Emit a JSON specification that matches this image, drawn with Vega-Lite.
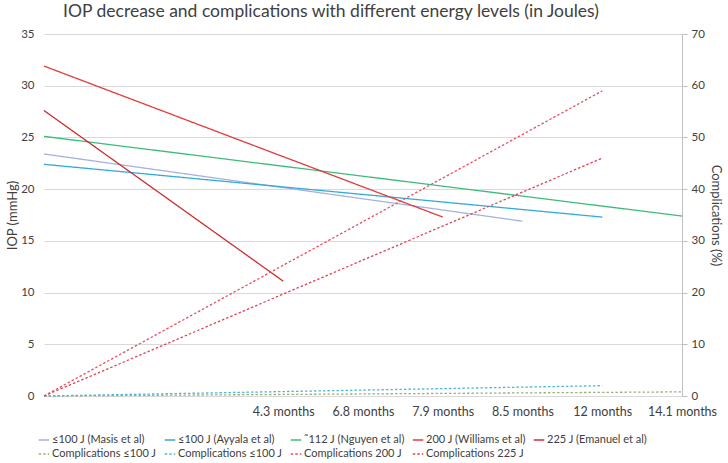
{
  "$schema": "https://vega.github.io/schema/vega-lite/v6.json",
  "width": 638,
  "height": 362,
  "autosize": {"type": "none"},
  "padding": {"left": 44, "top": 34, "right": 46, "bottom": 67},
  "background": "white",
  "title": {
    "text": "IOP decrease and complications with different energy levels (in Joules)",
    "font": "Lato",
    "fontSize": 17.5,
    "fontWeight": "normal",
    "color": "#404040",
    "anchor": "middle",
    "dx": -32,
    "offset": 8
  },
  "config": {
    "view": {"stroke": null},
    "font": "Lato",
    "legend": {
      "orient": "none",
      "legendX": -6,
      "legendY": 400,
      "direction": "horizontal",
      "columns": 5,
      "symbolType": "stroke",
      "symbolSize": 110,
      "symbolStrokeWidth": 1.3,
      "labelFont": "Lato",
      "labelFontSize": 11,
      "labelColor": "#404040",
      "labelOffset": 2,
      "columnPadding": 5,
      "rowPadding": 3,
      "title": null
    }
  },
  "data": {
    "values": [
      {"measure": "IOP", "series": "≤100 J (Masis et al)", "time": "Baseline", "value": 23.4},
      {"measure": "IOP", "series": "≤100 J (Masis et al)", "time": "8.5 months", "value": 16.9},
      {"measure": "IOP", "series": "≤100 J (Ayyala et al)", "time": "Baseline", "value": 22.4},
      {"measure": "IOP", "series": "≤100 J (Ayyala et al)", "time": "12 months", "value": 17.3},
      {"measure": "IOP", "series": "˜112 J (Nguyen et al)", "time": "Baseline", "value": 25.1},
      {"measure": "IOP", "series": "˜112 J (Nguyen et al)", "time": "14.1 months", "value": 17.4},
      {"measure": "IOP", "series": "200 J (Williams et al)", "time": "Baseline", "value": 31.9},
      {"measure": "IOP", "series": "200 J (Williams et al)", "time": "7.9 months", "value": 17.3},
      {"measure": "IOP", "series": "225 J (Emanuel et al)", "time": "Baseline", "value": 27.6},
      {"measure": "IOP", "series": "225 J (Emanuel et al)", "time": "4.3 months", "value": 11.1},
      {"measure": "Complications", "series": "Complications ≤100 J", "time": "Baseline", "value": 0},
      {"measure": "Complications", "series": "Complications ≤100 J", "time": "14.1 months", "value": 0.8},
      {"measure": "Complications", "series": "Complications ≤100 J ", "time": "Baseline", "value": 0},
      {"measure": "Complications", "series": "Complications ≤100 J ", "time": "12 months", "value": 2.0},
      {"measure": "Complications", "series": "Complications 200 J", "time": "Baseline", "value": 0},
      {"measure": "Complications", "series": "Complications 200 J", "time": "12 months", "value": 59.0},
      {"measure": "Complications", "series": "Complications 225 J", "time": "Baseline", "value": 0},
      {"measure": "Complications", "series": "Complications 225 J", "time": "12 months", "value": 46.0}
    ]
  },
  "encoding": {
    "x": {
      "field": "time",
      "type": "ordinal",
      "sort": null,
      "scale": {
        "type": "point",
        "padding": 0,
        "domain": ["Baseline", "pre1", "pre2", "4.3 months", "6.8 months", "7.9 months", "8.5 months", "12 months", "14.1 months"]
      },
      "axis": {
        "title": null,
        "labelAngle": 0,
        "labelExpr": "indexof(datum.value, 'months') >= 0 ? datum.value : ''",
        "labelFont": "Lato",
        "labelFontSize": 12.5,
        "labelColor": "#404040",
        "labelPadding": 9,
        "ticks": false,
        "grid": false,
        "domainColor": "#D9D9D9",
        "domainWidth": 1
      }
    },
    "color": {
      "field": "series",
      "type": "nominal",
      "scale": {
        "domain": ["≤100 J (Masis et al)", "≤100 J (Ayyala et al)", "˜112 J (Nguyen et al)", "200 J (Williams et al)", "225 J (Emanuel et al)", "Complications ≤100 J", "Complications ≤100 J ", "Complications 200 J", "Complications 225 J"],
        "range": ["#A4B3DD", "#33AAD8", "#3DBB7C", "#E03C3C", "#CC2E2E", "#9CB27E", "#4BB8D9", "#E8505F", "#D9485A"]
      }
    },
    "strokeDash": {
      "field": "series",
      "type": "nominal",
      "scale": {
        "domain": ["≤100 J (Masis et al)", "≤100 J (Ayyala et al)", "˜112 J (Nguyen et al)", "200 J (Williams et al)", "225 J (Emanuel et al)", "Complications ≤100 J", "Complications ≤100 J ", "Complications 200 J", "Complications 225 J"],
        "range": [[1, 0], [1, 0], [1, 0], [1, 0], [1, 0], [2.5, 2], [2.5, 2], [2.5, 2], [2.5, 2]]
      }
    }
  },
  "layer": [
    {
      "transform": [{"filter": "datum.measure === 'IOP'"}],
      "mark": {"type": "line", "strokeWidth": 1.3},
      "encoding": {
        "y": {
          "field": "value",
          "type": "quantitative",
          "scale": {"domain": [0, 35], "nice": false},
          "axis": {
            "title": "IOP (mmHg)",
            "titleFont": "Lato",
            "titleFontSize": 13,
            "titleFontWeight": "normal",
            "titleColor": "#404040",
            "titlePadding": 1,
            "values": [0, 5, 10, 15, 20, 25, 30, 35],
            "labelFont": "Lato",
            "labelFontSize": 11.5,
            "labelColor": "#404040",
            "labelPadding": 10,
            "ticks": false,
            "domain": false,
            "grid": true,
            "gridColor": "#D9D9D9",
            "gridWidth": 1
          }
        }
      }
    },
    {
      "transform": [{"filter": "datum.measure === 'Complications'"}],
      "mark": {"type": "line", "strokeWidth": 1.3},
      "encoding": {
        "y": {
          "field": "value",
          "type": "quantitative",
          "scale": {"domain": [0, 70], "nice": false},
          "axis": {
            "orient": "right",
            "title": "Complications (%)",
            "titleFont": "Lato",
            "titleFontSize": 13,
            "titleFontWeight": "normal",
            "titleColor": "#404040",
            "titlePadding": 4,
            "values": [0, 10, 20, 30, 40, 50, 60, 70],
            "labelFont": "Lato",
            "labelFontSize": 11.5,
            "labelColor": "#404040",
            "labelPadding": 4,
            "ticks": true,
            "tickSize": 5,
            "tickColor": "#BFBFBF",
            "domain": true,
            "domainColor": "#BFBFBF",
            "grid": false
          }
        }
      }
    }
  ],
  "resolve": {"scale": {"y": "independent"}}
}
